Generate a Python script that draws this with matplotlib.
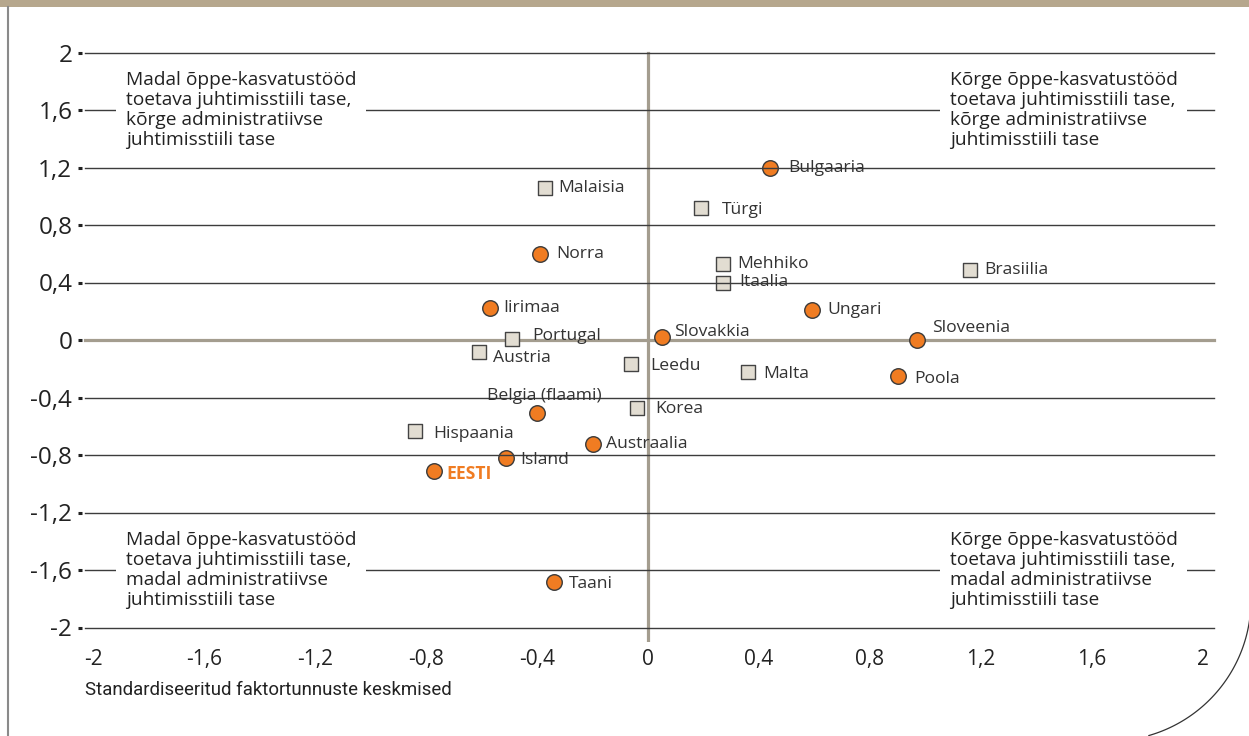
import numpy as np
import matplotlib
matplotlib.use("Agg")
import matplotlib.pyplot as plt
from matplotlib.lines import Line2D
from matplotlib.patches import Rectangle
from matplotlib import font_manager

# --- andmed ---
circ_names = ["Bulgaaria", "Norra", "Iirimaa", "Ungari", "Slovakkia", "Sloveenia",
              "Poola", "Belgia (flaami)", "Austraalia", "Island", "EESTI", "Taani"]
circ_x = [0.44, -0.39, -0.57, 0.59, 0.05, 0.97, 0.90, -0.40, -0.20, -0.51, -0.77, -0.34]
circ_y = [1.20, 0.60, 0.22, 0.21, 0.02, 0.00, -0.25, -0.51, -0.72, -0.82, -0.91, -1.68]

sq_names = ["Malaisia", "Türgi", "Mehhiko", "Itaalia", "Brasiilia", "Portugal",
            "Austria", "Leedu", "Malta", "Korea", "Hispaania"]
sq_x = [-0.37, 0.19, 0.27, 0.27, 1.16, -0.49, -0.61, -0.06, 0.36, -0.04, -0.84]
sq_y = [1.06, 0.92, 0.53, 0.40, 0.49, 0.01, -0.08, -0.17, -0.22, -0.47, -0.63]

ticks = [-2, -1.6, -1.2, -0.8, -0.4, 0, 0.4, 0.8, 1.2, 1.6, 2]
tick_labels = ["-2", "-1,6", "-1,2", "-0,8", "-0,4", "0", "0,4", "0,8", "1,2", "1,6", "2"]

quad_text = {
    "tl": "Madal õppe-kasvatustööd\ntoetava juhtimisstiili tase,\nkõrge administratiivse\njuhtimisstiili tase",
    "tr": "Kõrge õppe-kasvatustööd\ntoetava juhtimisstiili tase,\nkõrge administratiivse\njuhtimisstiili tase",
    "bl": "Madal õppe-kasvatustööd\ntoetava juhtimisstiili tase,\nmadal administratiivse\njuhtimisstiili tase",
    "br": "Kõrge õppe-kasvatustööd\ntoetava juhtimisstiili tase,\nmadal administratiivse\njuhtimisstiili tase",
}
xlabel = "Standardiseeritud faktortunnuste keskmised"

# sildi nihked pikslites (paigutus)
circ_off = [(18, 0), (16, 0), (13, 0), (16, 0), (12, 5), (15, 12),
            (16, -3), (7, 17), (13, 0), (14, -2), (12, -3), (15, -2)]
sq_off = [(13, 0), (21, -2), (14, 0), (16, 0), (14, 0), (20, 3),
          (14, -6), (19, -2), (15, -2), (18, -1), (18, -3)]

ORANGE = "#f07c22"
SQFACE = "#e2ddd2"
TAN = "#a49d8f"
GRID = "#3c3c3c"

plt.rcParams['font.family'] = ['Open Sans', 'DejaVu Sans']

W, H = 1249, 736
fig = plt.figure(figsize=(W / 100, H / 100), dpi=100)

# pikslid -> andmed: x0=648, 277.5 px/ühik ; y0=340, 143.75 px/ühik
x0, sx, y0, sy = 648.0, 277.5, 340.0, 143.75
xl, xr = -2.047, 2.1
yb, yt = -2.1, 2.2
left_px = x0 + xl * sx
right_px = x0 + xr * sx
top_px = y0 - yt * sy
bot_px = y0 - yb * sy
ax = fig.add_axes([left_px / W, (H - bot_px) / H, (right_px - left_px) / W, (bot_px - top_px) / H])
ax.set_xlim(xl, xr)
ax.set_ylim(yb, yt)
for s in ax.spines.values():
    s.set_visible(False)

# ruudustik
for t in ticks:
    if t == 0:
        continue
    ax.plot([-2.03, 2.04], [t, t], color=GRID, lw=1.0, zorder=3)
ax.plot([-2.03, 2.04], [0, 0], color=TAN, lw=2.3, zorder=1)
ax.plot([0, 0], [-2.09, 2.0], color=TAN, lw=2.3, zorder=1)

ax.set_yticks(ticks)
ax.set_yticklabels(tick_labels)
ax.set_xticks(ticks)
ax.set_xticklabels(tick_labels)
ax.tick_params(axis='y', length=3, width=2.2, color='#222222', direction='inout',
               pad=4, labelsize=17.5, labelcolor='#222222')
ax.tick_params(axis='x', length=0, pad=5, labelsize=15, labelcolor='#222222')

ax.scatter(sq_x, sq_y, marker='s', s=105, facecolor=SQFACE, edgecolor='#444444',
           linewidth=1.0, zorder=2)
ax.scatter(circ_x, circ_y, marker='o', s=125, facecolor=ORANGE, edgecolor='#3a3a3a',
           linewidth=1.0, zorder=2)

lab = dict(fontsize=12.6, color='#333333', va='center', ha='left', zorder=4,
           textcoords='offset pixels')
for n, x, y, o in zip(sq_names, sq_x, sq_y, sq_off):
    ax.annotate(n, (x, y), xytext=o, **lab)
for n, x, y, o in zip(circ_names, circ_x, circ_y, circ_off):
    if n == "EESTI":
        ax.annotate(n, (x, y), xytext=o, textcoords='offset pixels', fontsize=12.6,
                    color=ORANGE, fontweight='bold', va='center', ha='left', zorder=4)
    elif n.startswith("Belgia"):
        ax.annotate(n, (x, y), xytext=o, textcoords='offset pixels', fontsize=12.6,
                    color='#333333', va='center', ha='center', zorder=4)
    else:
        ax.annotate(n, (x, y), xytext=o, **lab)

qkw = dict(fontsize=13.8, color='#222222', va='center', ha='left', linespacing=1.12,
           zorder=5, bbox=dict(boxstyle='square,pad=0.5', fc='white', ec='none'))
ax.text(-1.881, 1.6, quad_text["tl"], **qkw)
ax.text(1.088, 1.6, quad_text["tr"], **qkw)
ax.text(-1.881, -1.6, quad_text["bl"], **qkw)
ax.text(1.088, -1.6, quad_text["br"], **qkw)

# x-telje nimi (kitsas kiri)
names = {f.name for f in font_manager.fontManager.ttflist}
if 'Liberation Sans Narrow' in names:
    fig.text(85 / W, (H - 690) / H, xlabel, family='Liberation Sans Narrow',
             fontsize=14, color='#222222', va='center', ha='left')
else:
    fig.text(85 / W, (H - 690) / H, xlabel, family='Roboto', fontsize=13.4,
             color='#222222', va='center', ha='left')

# raam: ülemine riba, vasak joon, kaar paremas alanurgas
fig.patches.append(Rectangle((0, (H - 7) / H), 1, 7 / H, transform=fig.transFigure,
                             facecolor='#b6a78d', edgecolor='none'))
fig.lines.append(Line2D([8 / W, 8 / W], [0, (H - 7) / H], transform=fig.transFigure,
                        color='#8a8a8a', lw=1.5))
th = np.linspace(np.radians(-74), np.radians(-8), 60)
cx, cy, r = 1110, H - 600, 141
fig.lines.append(Line2D((cx + r * np.cos(th)) / W, (cy + r * np.sin(th)) / H,
                        transform=fig.transFigure, color='#333333', lw=0.9))

fig.savefig("out.png", dpi=100)
